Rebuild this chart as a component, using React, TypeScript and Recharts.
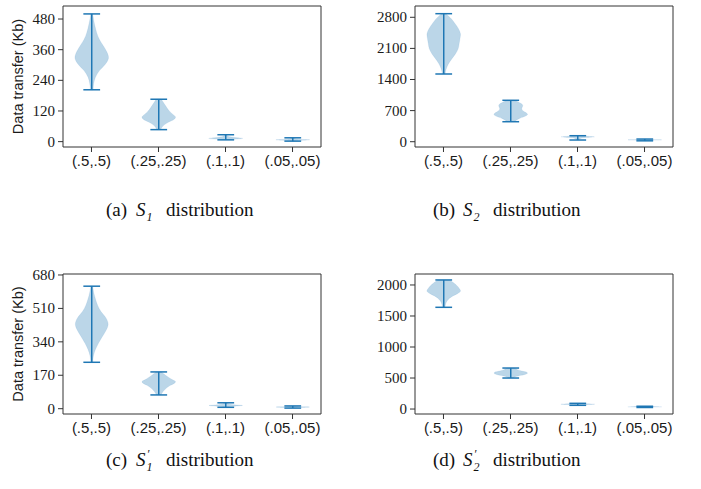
import React from 'react';
import { ComposedChart, Bar, XAxis, YAxis, ReferenceLine } from 'recharts';

const categories = ['(.5,.5)', '(.25,.25)', '(.1,.1)', '(.05,.05)'];
const positions = [1, 2, 3, 4];

// S1 distribution
const s1Min = [203, 47, 7, 2];
const s1Max = [500, 166, 27, 15];
const s1Shapes = [
  [0.06, 0.12, 0.2, 0.3, 0.45, 0.68, 0.9, 1.0, 0.8, 0.45, 0.22, 0.12, 0.08],
  [0.15, 0.25, 0.35, 0.45, 0.55, 0.68, 0.85, 1.0, 0.9, 0.6, 0.35, 0.2, 0.12],
  [0.04, 0.06, 0.08, 0.12, 0.18, 0.28, 0.45, 0.7, 0.95, 1.0, 0.7, 0.35, 0.15],
  [0.04, 0.06, 0.1, 0.15, 0.25, 0.4, 0.7, 1.0, 0.9, 0.6, 0.35, 0.2, 0.1],
];
const s1Ticks = [0, 120, 240, 360, 480];

// S2 distribution
const s2Min = [1524, 450, 38, 20];
const s2Max = [2881, 932, 135, 60];
const s2Shapes = [
  [0.14, 0.45, 0.68, 0.88, 1.0, 0.97, 0.92, 0.86, 0.7, 0.48, 0.28, 0.15, 0.08],
  [0.2, 0.45, 0.65, 0.72, 0.68, 0.66, 0.75, 0.92, 1.0, 0.85, 0.55, 0.35, 0.2],
  [0.1, 0.3, 0.7, 1.0, 0.8, 0.5, 0.3, 0.2, 0.15, 0.12, 0.1, 0.08, 0.06],
  [0.05, 0.1, 0.2, 0.35, 0.6, 0.9, 1.0, 0.8, 0.5, 0.3, 0.15, 0.08, 0.04],
];
const s2Ticks = [0, 700, 1400, 2100, 2800];

// S'1 distribution
const s1pMin = [236, 70, 7, 3];
const s1pMax = [623, 187, 30, 14];
const s1pShapes = [
  [0.06, 0.12, 0.22, 0.35, 0.55, 0.85, 0.98, 0.85, 0.62, 0.4, 0.22, 0.1, 0.06],
  [0.15, 0.3, 0.45, 0.62, 0.8, 1.0, 0.92, 0.7, 0.52, 0.38, 0.28, 0.2, 0.14],
  [0.05, 0.08, 0.12, 0.18, 0.28, 0.45, 0.75, 1.0, 0.85, 0.55, 0.3, 0.15, 0.07],
  [0.05, 0.1, 0.2, 0.35, 0.55, 0.8, 1.0, 0.9, 0.65, 0.4, 0.22, 0.12, 0.06],
];
const s1pTicks = [0, 170, 340, 510, 680];

// S'2 distribution
const s2pMin = [1640, 500, 60, 25];
const s2pMax = [2081, 661, 92, 45];
const s2pShapes = [
  [0.35, 0.55, 0.72, 0.85, 0.95, 1.0, 0.82, 0.55, 0.35, 0.22, 0.14, 0.1, 0.08],
  [0.2, 0.3, 0.4, 0.55, 0.75, 0.95, 1.0, 0.95, 0.8, 0.55, 0.35, 0.22, 0.15],
  [0.1, 0.2, 0.35, 0.55, 0.8, 1.0, 0.95, 0.75, 0.5, 0.3, 0.18, 0.1, 0.06],
  [0.05, 0.1, 0.2, 0.4, 0.7, 0.95, 1.0, 0.8, 0.5, 0.3, 0.15, 0.08, 0.04],
];
const s2pTicks = [0, 500, 1000, 1500, 2000];

const X_DOMAIN: [number, number] = [0.575, 4.425];
const VIOLIN_WIDTH = 0.5;
const C0 = '#1f77b4';
const AXIS = '#333';
const SERIF = 'Liberation Serif';
const SANS = 'Liberation Sans';

type Pt = [number, number];

function catmull(pts: Pt[]): string {
  let d = '';
  for (let i = 0; i < pts.length - 1; i++) {
    const p0 = pts[i - 1] || pts[i];
    const p1 = pts[i];
    const p2 = pts[i + 1];
    const p3 = pts[i + 2] || p2;
    const c1x = p1[0] + (p2[0] - p0[0]) / 6;
    const c1y = p1[1] + (p2[1] - p0[1]) / 6;
    const c2x = p2[0] - (p3[0] - p1[0]) / 6;
    const c2y = p2[1] - (p3[1] - p1[1]) / 6;
    d += ` C${c1x},${c1y} ${c2x},${c2y} ${p2[0]},${p2[1]}`;
  }
  return d;
}

function ViolinShape(props: any) {
  const { x, y, width, height, payload } = props;
  if (x == null || y == null || width == null || height == null || !payload) return null;
  const top = Math.min(y, y + height);
  const h = Math.abs(height);
  const cx = x + width / 2;
  const hw = width / 2;
  const prof: number[] = payload.profile;
  const n = prof.length;
  const left: Pt[] = prof.map((p, i) => [cx - p * hw, top + (h * i) / (n - 1)]);
  const right: Pt[] = prof.map((p, i) => [cx + p * hw, top + (h * i) / (n - 1)] as Pt).reverse();
  const d = `M${left[0][0]},${left[0][1]}` + catmull(left) + ` L${right[0][0]},${right[0][1]}` + catmull(right) + ' Z';
  const cap = hw / 2;
  return (
    <g>
      <path d={d} fill={C0} fillOpacity={0.3} stroke={C0} strokeOpacity={0.15} strokeWidth={0.6} />
      <line x1={cx} x2={cx} y1={top} y2={top + h} stroke={C0} strokeWidth={1.5} />
      <line x1={cx - cap} x2={cx + cap} y1={top} y2={top} stroke={C0} strokeWidth={1.5} />
      <line x1={cx - cap} x2={cx + cap} y1={top + h} y2={top + h} stroke={C0} strokeWidth={1.5} />
    </g>
  );
}

function XTick(props: any) {
  const { x, y, payload } = props;
  const label = categories[positions.indexOf(payload.value)] ?? '';
  return (
    <text x={x} y={y} dy={11} textAnchor="middle" fontFamily={SANS} fontSize={15} fill="#1a1a1a">
      {label}
    </text>
  );
}

function YTick(props: any) {
  const { x, y, payload } = props;
  return (
    <text x={x} y={y} dy={5} textAnchor="end" fontFamily={SERIF} fontSize={15} fill="#1a1a1a">
      {payload.value}
    </text>
  );
}

type PanelProps = {
  plotLeft: number;
  plotTop: number;
  plotBottom: number;
  yDomain: [number, number];
  yTicks: number[];
  mins: number[];
  maxs: number[];
  shapes: number[][];
};

const CHART_W = 340;
const M_LEFT = 13;
const M_RIGHT = 19;
const M_TOP = 6;
const M_BOTTOM = 12;
const Y_AXIS_W = 50;
const X_AXIS_H = 30;

function Panel({ plotLeft, plotTop, plotBottom, yDomain, yTicks, mins, maxs, shapes }: PanelProps) {
  const data = positions.map((p, i) => ({
    pos: p,
    name: categories[i],
    range: [mins[i], maxs[i]],
    profile: shapes[i],
  }));
  const plotH = plotBottom - plotTop;
  const height = plotH + M_TOP + M_BOTTOM + X_AXIS_H;
  const plotW = CHART_W - M_LEFT - M_RIGHT - Y_AXIS_W;
  const barSize = (VIOLIN_WIDTH * plotW) / (X_DOMAIN[1] - X_DOMAIN[0]);
  return (
    <div style={{ position: 'absolute', left: plotLeft - M_LEFT - Y_AXIS_W, top: plotTop - M_TOP }}>
      <ComposedChart
        width={CHART_W}
        height={height}
        data={data}
        margin={{ top: M_TOP, right: M_RIGHT, bottom: M_BOTTOM, left: M_LEFT }}
        barSize={barSize}
      >
        <XAxis
          dataKey="pos"
          type="number"
          domain={X_DOMAIN}
          allowDataOverflow
          ticks={positions}
          height={X_AXIS_H}
          tickSize={5}
          tickMargin={3}
          interval={0}
          stroke={AXIS}
          tick={<XTick />}
          tickLine={{ stroke: AXIS }}
        />
        <YAxis
          type="number"
          domain={yDomain}
          allowDataOverflow
          ticks={yTicks}
          interval={0}
          width={Y_AXIS_W}
          tickSize={5}
          tickMargin={3}
          stroke={AXIS}
          tick={<YTick />}
          tickLine={{ stroke: AXIS }}
        />
        <ReferenceLine y={yDomain[1]} stroke={AXIS} strokeWidth={1} ifOverflow="visible" />
        <ReferenceLine x={X_DOMAIN[1]} stroke={AXIS} strokeWidth={1} ifOverflow="visible" />
        <Bar dataKey="range" shape={<ViolinShape />} isAnimationActive={false} />
      </ComposedChart>
    </div>
  );
}

function Caption({ x, y, letter, sub, prime }: { x: number; y: number; letter: string; sub: string; prime?: boolean }) {
  return (
    <g fontFamily={SERIF} fill="#111">
      <text x={x} y={y} fontSize={19}>{`(${letter})`}</text>
      <text x={x + 30} y={y} fontSize={19} fontStyle="italic">S</text>
      {prime ? (
        <text x={x + 41.5} y={y - 8} fontSize={12}>′</text>
      ) : null}
      <text x={x + 40.5} y={y + 5} fontSize={12} fontStyle="italic">{sub}</text>
      <text x={x + 60} y={y} fontSize={19}>distribution</text>
    </g>
  );
}

export default function App() {
  return (
    <div style={{ position: 'absolute', left: 0, top: 0, width: 701, height: 489, background: '#fff', overflow: 'hidden' }}>
      <Panel plotLeft={63} plotTop={6} plotBottom={147} yDomain={[-21, 531]} yTicks={s1Ticks} mins={s1Min} maxs={s1Max} shapes={s1Shapes} />
      <Panel plotLeft={415} plotTop={6} plotBottom={147} yDomain={[-119, 3054]} yTicks={s2Ticks} mins={s2Min} maxs={s2Max} shapes={s2Shapes} />
      <Panel plotLeft={63} plotTop={274} plotBottom={414} yDomain={[-27, 685]} yTicks={s1pTicks} mins={s1pMin} maxs={s1pMax} shapes={s1pShapes} />
      <Panel plotLeft={415} plotTop={274} plotBottom={414} yDomain={[-80, 2177]} yTicks={s2pTicks} mins={s2pMin} maxs={s2pMax} shapes={s2pShapes} />
      <svg width={701} height={489} style={{ position: 'absolute', left: 0, top: 0, pointerEvents: 'none' }}>
        <text transform="translate(18,76.5) rotate(-90)" textAnchor="middle" dominantBaseline="central" fontFamily={SANS} fontSize={14.5} fill="#1a1a1a">Data transfer (Kb)</text>
        <text transform="translate(18,344) rotate(-90)" textAnchor="middle" dominantBaseline="central" fontFamily={SANS} fontSize={14.5} fill="#1a1a1a">Data transfer (Kb)</text>
        <Caption x={106} y={216} letter="a" sub="1" />
        <Caption x={433} y={216} letter="b" sub="2" />
        <Caption x={106} y={466} letter="c" sub="1" prime />
        <Caption x={433} y={466} letter="d" sub="2" prime />
      </svg>
    </div>
  );
}
